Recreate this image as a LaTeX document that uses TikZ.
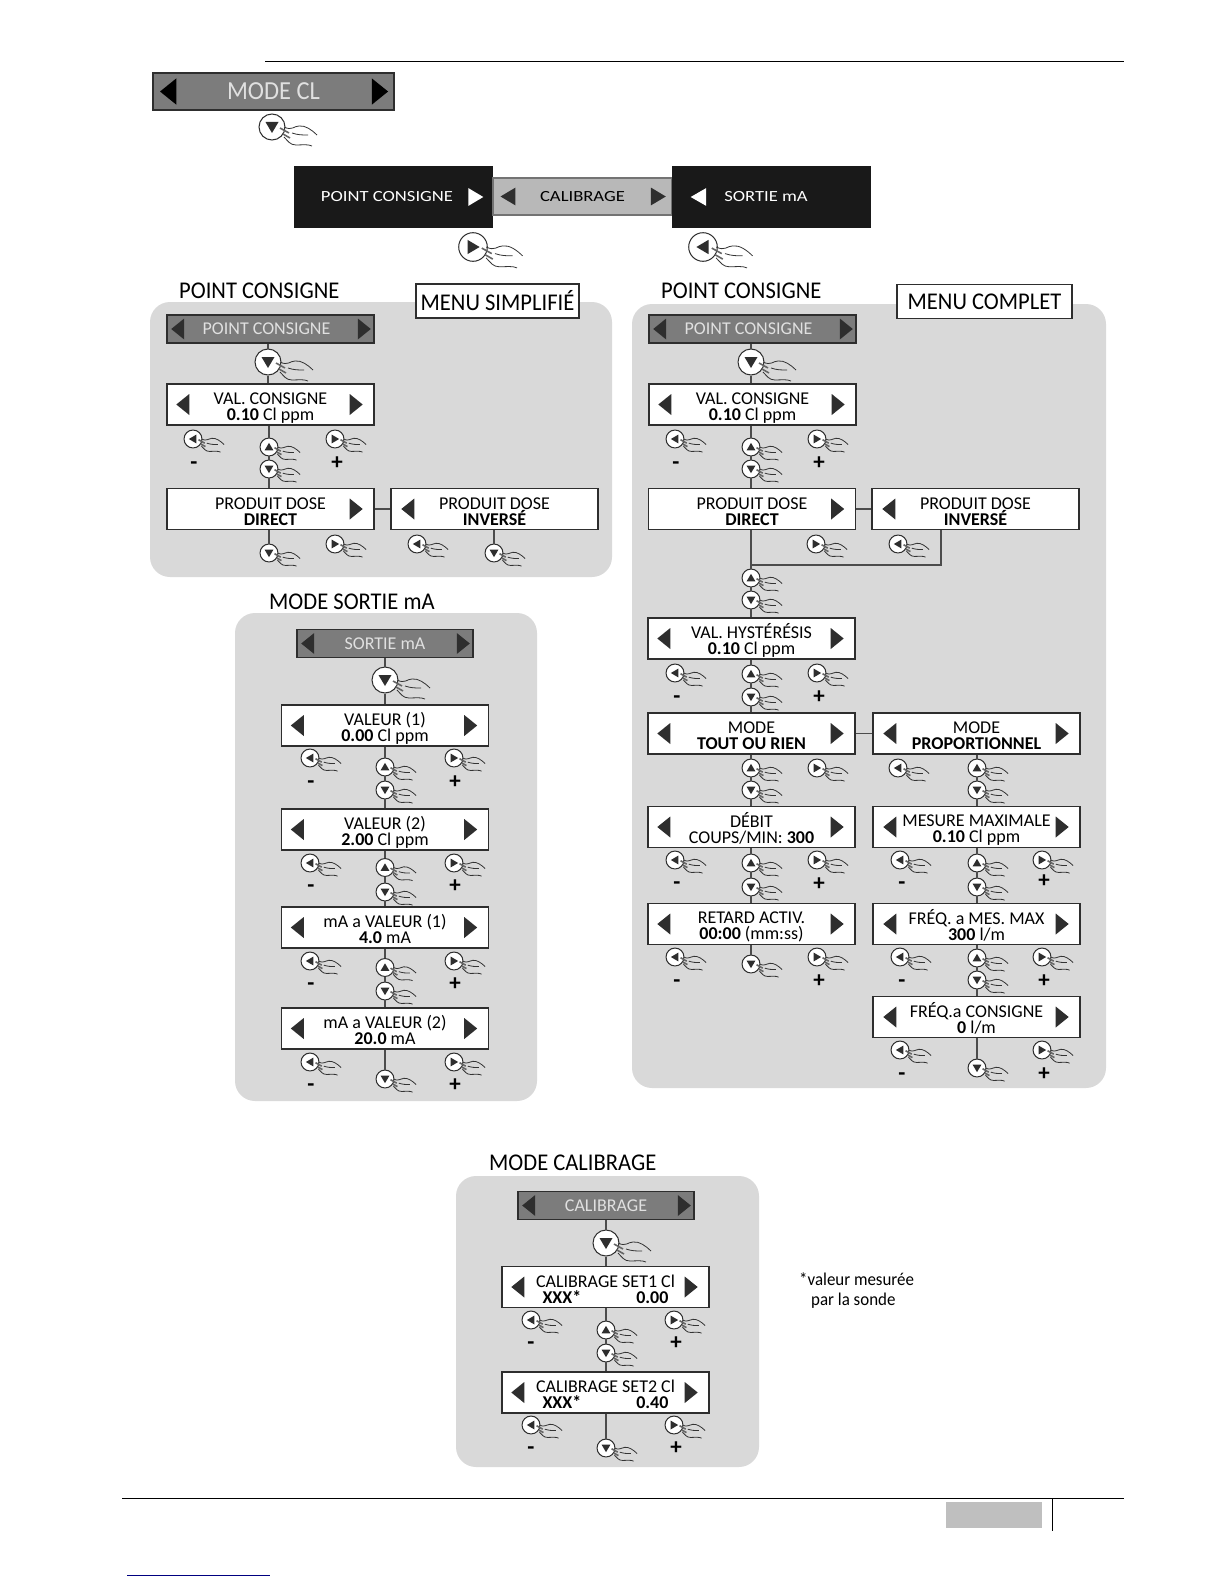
\documentclass[tikz,border=0pt]{standalone}
\usepackage{fontspec}
\setmainfont{Carlito}
\newfontfamily\widefont[FakeStretch=1.2]{Carlito}
\newfontfamily\slimfont[FakeStretch=.94]{Carlito}
\usetikzlibrary{calc}
\definecolor{panelgray}{HTML}{D9D9D9}
\definecolor{headgray}{HTML}{7C7C7C}
\definecolor{inkdark}{HTML}{2E2E2E}
\tikzset{
panel/.style={fill=panelgray,rounded corners=20pt,inner sep=0,outer sep=0},
menu/.style={draw=inkdark,fill=white,line width=1.4pt,minimum width=207,minimum height=41,inner sep=0,align=center,font=\fontsize{18}{16}\selectfont},
head/.style={draw=inkdark,fill=headgray,line width=1.6pt,minimum width=207,minimum height=28,inner sep=0,text=white!88!black,font=\fontsize{18}{18}\selectfont},
tag/.style={draw=inkdark,fill=white,line width=1.3pt,inner sep=0,font=\slimfont\fontsize{24}{24}\selectfont},
title/.style={inner sep=0,font=\slimfont\fontsize{24}{24}\selectfont},
blackbox/.style={fill=black!90,minimum width=199,minimum height=62,inner sep=0,text=white,font=\widefont\fontsize{15.5}{16}\selectfont},
knob/.style={draw=inkdark,fill=white,circle,line width=1pt,minimum size=26,inner sep=0,transform shape},
sign/.style={inner sep=0,text height=12pt,text depth=0pt,font=\fontsize{23}{23}\selectfont\bfseries},
link/.style={draw=black!70,line width=1.2pt},
handline/.style={draw=black!80,line width=.8pt}}
\newcommand\two[2]{\rule{0pt}{18pt}#1\\#2\rule[-2pt]{0pt}{2pt}}
\newcommand\press[4][.69]{\begin{scope}[shift={(#3)},scale=#1]
\node[knob](#2)at(0,0){};
\fill[inkdark,rotate=#4](-6.5,-5)--(6.5,-5)--(0,6)--cycle;
\draw[handline](12,0)..controls(20,4)and(22,-1)..(27,-1)..controls(33,-2)and(40,3)..(45,8);
\draw[handline](20,6)..controls(26,8)and(30,8)..(36,8);
\draw[handline](12,10)..controls(16,14)and(18,18)..(24,18)..controls(30,18)and(36,17)..(40,19);
\draw[black!60,line width=1.6pt](8,1)--(17,6);\draw[black!60,line width=1.6pt](11,7)--(18,11);
\end{scope}}
\newcommand\tipL[3][inkdark]{\fill[#1]($(#2.west)+(#3,0)$)--++(13,-10.5)--++(0,21)--cycle;}
\newcommand\tipR[3][inkdark]{\fill[#1]($(#2.east)-(#3,0)$)--++(-13,-10.5)--++(0,21)--cycle;}
\begin{document}
\begin{tikzpicture}[x=1pt,y=-1pt]
\useasboundingbox(0,0)rectangle(1224,1584);
\node[panel,minimum width=462,minimum height=275](simple)at(381,439.5){};
\node[panel,minimum width=474,minimum height=784](complet)at(869,696){};
\node[panel,minimum width=302,minimum height=488](sortie)at(386,857){};
\node[panel,minimum width=303,minimum height=291](calib)at(607.5,1321.5){};
\draw[black,line width=1pt](265,61.5)--(1124,61.5);
\draw[black,line width=1pt](122,1498)--(1124,1498);
\fill[black!25](946,1502)rectangle(1042,1528);
\draw[black,line width=1pt](1052,1498)--(1052,1531);
\draw[blue!50!black,line width=1pt](127,1575)--(270,1575);
\node[head,minimum width=241,minimum height=37,line width=2pt,font=\slimfont\fontsize{26}{26}\selectfont](modecl)at(273.5,91.5){MODE CL};
\tipL[scale=1.25]{modecl}{6.4}\tipR[scale=1.25]{modecl}{5.6}
\press[1]{clbtn}{272,127}{0}
\node[blackbox](bpoint)at(393.5,197){\hspace*{-13pt}POINT CONSIGNE};
\node[fill=black!28,draw=black!55,line width=1.2pt,minimum width=179,minimum height=37,inner sep=0,font=\widefont\fontsize{15.5}{16}\selectfont](bcalib)at(582.5,196.5){CALIBRAGE};
\node[blackbox](bsortie)at(771,197){\hspace*{-10pt}SORTIE mA};
\tipR[white,xscale=1.15,yscale=.85]{bpoint}{8.7}\tipL[white,xscale=1.2,yscale=.85]{bsortie}{16}
\tipL[inkdark,xscale=1.15,yscale=.85]{bcalib}{7}\tipR[inkdark,xscale=1.15,yscale=.85]{bcalib}{6}
\press[1.1]{pbtn}{473,247}{90}
\press[1.1]{sbtn}{703,247}{-90}
\node[title,anchor=west](stitle)at(179,291){POINT CONSIGNE};
\node[tag,minimum width=163,minimum height=34](stag)at(497.5,301){MENU SIMPLIFIÉ};
\node[head](shead)at(270.5,329){\hspace*{-8pt}POINT CONSIGNE};
\tipL{shead}{5}\tipR{shead}{4}
\press[1]{sdn}{268,362}{0}
\node[menu](sval)at(270.5,404.5){\two{VAL. CONSIGNE}{\textbf{0.10} Cl ppm}};
\tipL{sval}{10}\tipR{sval}{12}
\press{svalL}{193,439}{-90}\press{svalU}{269,447}{180}\press{svalD}{269,469}{0}\press{svalR}{335,439}{90}
\node[sign](svalm)at(194,463){-};\node[sign](svalp)at(337,463){+};
\node[menu](sdir)at(270.5,509){\two{PRODUIT DOSE}{\textbf{DIRECT}}};
\tipR{sdir}{12}
\node[menu](sinv)at(494.5,509){\two{PRODUIT DOSE}{\textbf{INVERSÉ}}};
\tipL{sinv}{11}
\press{sdirD}{269,553}{0}\press{sdirR}{335,544}{90}\press{sinvL}{417,544}{-90}\press{sinvD}{494,553}{0}
\draw[link](shead.south-|sdn)--(sdn)--(sval.north-|sdn);
\draw[link](sval.south-|svalU)--(svalU)--(svalD)--(sdir.north-|svalD);
\draw[link](sdir)--(sinv);
\draw[link](sdir.south-|sdirD)--(sdirD);\draw[link](sinv.south-|sinvD)--(sinvD);
\node[title,anchor=west](ctitle)at(661,291){POINT CONSIGNE};
\node[tag,minimum width=175,minimum height=34](ctag)at(984.5,301.5){MENU COMPLET};
\node[head](chead)at(752.5,329){\hspace*{-8pt}POINT CONSIGNE};
\tipL{chead}{5}\tipR{chead}{4}
\press[1]{cdn}{751,362}{0}
\node[menu](cval)at(752.5,404.5){\two{VAL. CONSIGNE}{\textbf{0.10} Cl ppm}};
\tipL{cval}{10}\tipR{cval}{12}
\press{cvalL}{675,439}{-90}\press{cvalU}{751,447}{180}\press{cvalD}{751,469}{0}\press{cvalR}{817,439}{90}
\node[sign](cvalm)at(676,463){-};\node[sign](cvalp)at(819,463){+};
\node[menu](cdir)at(752,509){\two{PRODUIT DOSE}{\textbf{DIRECT}}};
\tipR{cdir}{12}
\node[menu](cinv)at(975.5,509){\two{PRODUIT DOSE}{\textbf{INVERSÉ}}};
\tipL{cinv}{11}
\press{cdirR}{816,544}{90}\press{cinvL}{898,544}{-90}
\press{cjoinU}{751,578}{180}\press{cjoinD}{751,600}{0}
\coordinate(celbow)at(751,565);\coordinate(celbowb)at(941,565);
\node[menu](chys)at(751.5,638.5){\two{VAL. HYSTÉRÉSIS}{\textbf{0.10} Cl ppm}};
\tipL{chys}{10}\tipR{chys}{12}
\press{chysL}{675,673}{-90}\press{chysU}{751,674}{180}\press{chysD}{751,697}{0}\press{chysR}{817,673}{90}
\node[sign](chysm)at(677,697){-};\node[sign](chysp)at(819,697){+};
\node[menu](ctor)at(751.5,733.5){\two{MODE}{\textbf{TOUT OU RIEN}}};
\tipL{ctor}{10}\tipR{ctor}{12}
\node[menu](cpro)at(976.5,733.5){\two{MODE}{\textbf{PROPORTIONNEL}}};
\tipL{cpro}{11}\tipR{cpro}{12}
\press{ctorU}{751,768}{180}\press{ctorD}{751,790}{0}\press{ctorR}{817,768}{90}
\press{cproL}{898,768}{-90}\press{cproU}{977,768}{180}\press{cproD}{977,790}{0}
\node[menu](cdeb)at(751.5,827){\two{DÉBIT}{COUPS/MIN: \textbf{300}}};
\tipL{cdeb}{10}\tipR{cdeb}{12}
\node[menu](cmes)at(976.5,827){\two{MESURE MAXIMALE}{\textbf{0.10} Cl ppm}};
\tipL{cmes}{11}\tipR{cmes}{12}
\press{cdebL}{675,860}{-90}\press{cdebU}{751,863}{180}\press{cdebD}{751,887}{0}\press{cdebR}{817,860}{90}
\node[sign](cdebm)at(677,883){-};\node[sign](cdebp)at(819,884){+};
\press{cmesL}{900,860}{-90}\press{cmesU}{977,863}{180}\press{cmesD}{977,887}{0}\press{cmesR}{1042,860}{90}
\node[sign](cmesm)at(902,883){-};\node[sign](cmesp)at(1044,881){+};
\node[menu](cret)at(751.5,924){\two{RETARD ACTIV.}{\textbf{00:00} (mm:ss)}};
\tipL{cret}{10}\tipR{cret}{12}
\node[menu](cfre)at(976.5,924){\two{FRÉQ. a MES. MAX}{\textbf{300} l/m}};
\tipL{cfre}{11}\tipR{cfre}{12}
\press{cretL}{675,957}{-90}\press{cretD}{751,964}{0}\press{cretR}{817,957}{90}
\node[sign](cretm)at(677,981){-};\node[sign](cretp)at(819,981){+};
\press{cfreL}{900,957}{-90}\press{cfreU}{977,958}{180}\press{cfreD}{977,980}{0}\press{cfreR}{1042,957}{90}
\node[sign](cfrem)at(902,981){-};\node[sign](cfrep)at(1044,981){+};
\node[menu](ccon)at(976.5,1017){\two{FRÉQ.a CONSIGNE}{\textbf{0} l/m}};
\tipL{ccon}{11}\tipR{ccon}{12}
\press{cconL}{900,1050}{-90}\press{cconD}{977,1068}{0}\press{cconR}{1042,1050}{90}
\node[sign](cconm)at(902,1074){-};\node[sign](cconp)at(1044,1074){+};
\draw[link](chead.south-|cdn)--(cdn)--(cval.north-|cdn);
\draw[link](cval.south-|cvalU)--(cvalU)--(cvalD)--(cdir.north-|cvalD);
\draw[link](cdir)--(cinv);\draw[link](ctor)--(cpro);
\draw[link](cdir.south-|celbow)--(cjoinU)--(cjoinD)--(chys.north-|cjoinD);
\draw[link](celbow)--(celbowb)--(celbowb|-cinv.south);
\draw[link](chys.south-|chysU)--(chysU)--(chysD)--(ctor.north-|chysD);
\draw[link](ctor.south-|ctorU)--(ctorU)--(ctorD)--(cdeb.north-|ctorD);
\draw[link](cpro.south-|cproU)--(cproU)--(cproD)--(cmes.north-|cproD);
\draw[link](cdeb.south-|cdebU)--(cdebU)--(cdebD)--(cret.north-|cdebD);
\draw[link](cmes.south-|cmesU)--(cmesU)--(cmesD)--(cfre.north-|cmesD);
\draw[link](cret.south-|cretD)--(cretD);
\draw[link](cfre.south-|cfreU)--(cfreU)--(cfreD)--(ccon.north-|cfreD);
\draw[link](ccon.south-|cconD)--(cconD);
\node[title,anchor=west](mtitle)at(269,602){MODE SORTIE mA};
\node[head,minimum width=176](mhead)at(385,643.5){SORTIE mA};
\tipL{mhead}{5}\tipR{mhead}{4}
\press[1]{mdn}{385,680}{0}
\node[menu](mone)at(385,725.5){\two{VALEUR (1)}{\textbf{0.00} Cl ppm}};
\tipL{mone}{10}\tipR{mone}{12}
\press{moneL}{310,758}{-90}\press{moneU}{385,767}{180}\press{moneD}{385,790}{0}\press{moneR}{454,758}{90}
\node[sign](monem)at(311,782){-};\node[sign](monep)at(455,782){+};
\node[menu](mtwo)at(385,829.5){\two{VALEUR (2)}{\textbf{2.00} Cl ppm}};
\tipL{mtwo}{10}\tipR{mtwo}{12}
\press{mtwoL}{310,863}{-90}\press{mtwoU}{385,867.5}{180}\press{mtwoD}{385,892}{0}\press{mtwoR}{454,863}{90}
\node[sign](mtwom)at(311,886){-};\node[sign](mtwop)at(455,886){+};
\node[menu](mthr)at(385,927.5){\two{mA a VALEUR (1)}{\textbf{4.0} mA}};
\tipL{mthr}{10}\tipR{mthr}{12}
\press{mthrL}{310,961}{-90}\press{mthrU}{385,967.5}{180}\press{mthrD}{385,991}{0}\press{mthrR}{454,961}{90}
\node[sign](mthrm)at(311,984){-};\node[sign](mthrp)at(455,984){+};
\node[menu](mfou)at(385,1028.5){\two{mA a VALEUR (2)}{\textbf{20.0} mA}};
\tipL{mfou}{10}\tipR{mfou}{12}
\press{mfouL}{310,1062}{-90}\press{mfouD}{385,1079}{0}\press{mfouR}{454,1062}{90}
\node[sign](mfoum)at(311,1085){-};\node[sign](mfoup)at(455,1085){+};
\draw[link](mhead.south-|mdn)--(mdn)--(mone.north-|mdn);
\draw[link](mone.south-|moneU)--(moneU)--(moneD)--(mtwo.north-|moneD);
\draw[link](mtwo.south-|mtwoU)--(mtwoU)--(mtwoD)--(mthr.north-|mtwoD);
\draw[link](mthr.south-|mthrU)--(mthrU)--(mthrD)--(mfou.north-|mthrD);
\draw[link](mfou.south-|mfouD)--(mfouD);
\node[title,anchor=west](ktitle)at(489,1163){MODE CALIBRAGE};
\node[head,minimum width=176](khead)at(606,1205.5){CALIBRAGE};
\tipL{khead}{5}\tipR{khead}{4}
\press[1]{kdn}{606,1243}{0}
\node[menu](kone)at(605.5,1287){\two{CALIBRAGE SET1 Cl}{\textbf{XXX*}\hspace{55pt}\textbf{0.00}}};
\tipL{kone}{10}\tipR{kone}{12}
\press{koneL}{531,1320}{-90}\press{koneU}{606,1330}{180}\press{koneD}{606,1353}{0}\press{koneR}{674,1320}{90}
\node[sign](konem)at(531,1343){-};\node[sign](konep)at(676,1343){+};
\node[menu](ktwo)at(605.5,1392.5){\two{CALIBRAGE SET2 Cl}{\textbf{XXX*}\hspace{55pt}\textbf{0.40}}};
\tipL{ktwo}{10}\tipR{ktwo}{12}
\press{ktwoL}{531,1425}{-90}\press{ktwoD}{606,1448}{0}\press{ktwoR}{674,1425}{90}
\node[sign](ktwom)at(531,1448){-};\node[sign](ktwop)at(676,1448){+};
\draw[link](khead.south-|kdn)--(kdn)--(kone.north-|kdn);
\draw[link](kone.south-|koneU)--(koneU)--(koneD)--(ktwo.north-|koneD);
\draw[link](ktwo.south-|ktwoD)--(ktwoD);
\node[inner sep=0,anchor=north west,align=left,font=\slimfont\fontsize{18}{20}\selectfont](knote)at(799,1273){*valeur mesurée\\\hspace*{12pt}par la sonde};
\end{tikzpicture}
\end{document}
